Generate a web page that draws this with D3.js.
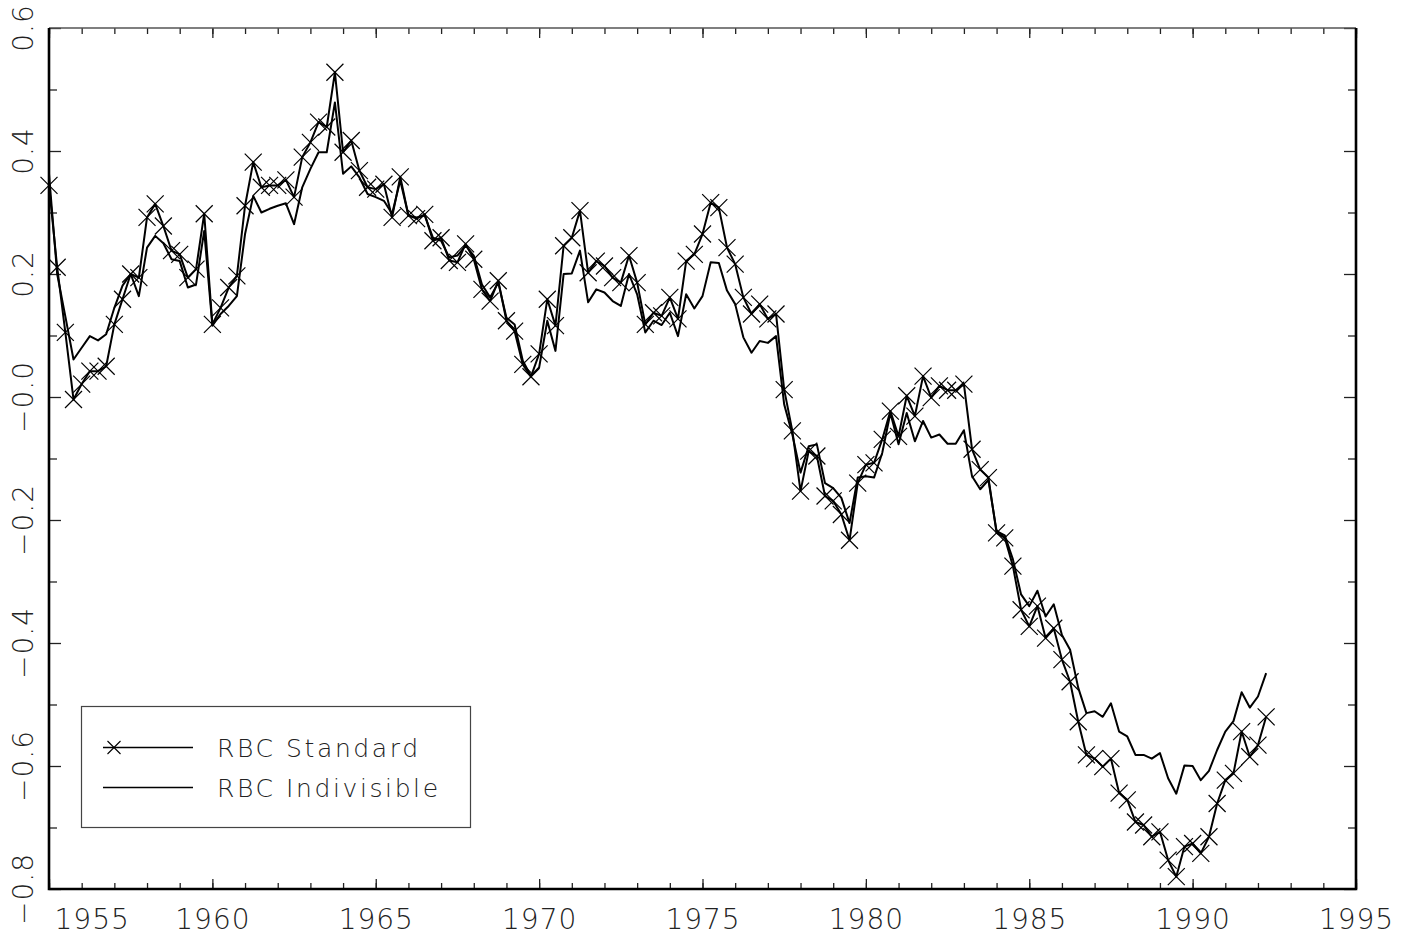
<!DOCTYPE html>
<html>
<head>
<meta charset="utf-8">
<script src="https://cdn.jsdelivr.net/npm/d3@7"></script>
<style>
  html, body { margin: 0; padding: 0; background: #fff; }
  svg { display: block; }
  text { font-family: "DejaVu Sans", sans-serif; font-weight: 200; fill: #222; }
</style>
</head>
<body>
<svg id="chart" width="1413" height="939"></svg>
<script>
// Quarterly series, 1955:1 through 1992:2
const firstYear = 1955;
const standard = [
  0.344, 0.211, 0.105, -0.004, 0.021, 0.042, 0.042, 0.050, 0.118, 0.159,
  0.200, 0.194, 0.292, 0.314, 0.278, 0.238, 0.232, 0.194, 0.208, 0.298,
  0.118, 0.145, 0.178, 0.197, 0.311, 0.382, 0.341, 0.344, 0.344, 0.353,
  0.325, 0.390, 0.414, 0.447, 0.439, 0.528, 0.398, 0.417, 0.368, 0.341,
  0.338, 0.346, 0.292, 0.358, 0.295, 0.290, 0.297, 0.254, 0.259, 0.222,
  0.219, 0.249, 0.224, 0.175, 0.156, 0.189, 0.124, 0.107, 0.053, 0.033,
  0.070, 0.159, 0.116, 0.246, 0.259, 0.303, 0.202, 0.221, 0.213, 0.194,
  0.186, 0.230, 0.186, 0.118, 0.137, 0.132, 0.162, 0.127, 0.221, 0.232,
  0.265, 0.316, 0.308, 0.243, 0.216, 0.162, 0.135, 0.151, 0.127, 0.135,
  0.012, -0.055, -0.153, -0.088, -0.096, -0.161, -0.169, -0.191, -0.233, -0.140,
  -0.110, -0.107, -0.069, -0.023, -0.064, 0.002, -0.031, 0.034, -0.001, 0.018,
  0.011, 0.011, 0.021, -0.085, -0.118, -0.131, -0.221, -0.229, -0.275, -0.346,
  -0.373, -0.340, -0.392, -0.376, -0.427, -0.463, -0.528, -0.582, -0.588, -0.601,
  -0.588, -0.644, -0.655, -0.691, -0.696, -0.715, -0.707, -0.753, -0.780, -0.731,
  -0.726, -0.742, -0.715, -0.661, -0.623, -0.612, -0.544, -0.585, -0.566, -0.520
];
const indivisible = [
  0.363, 0.200, 0.131, 0.061, 0.080, 0.099, 0.092, 0.102, 0.145, 0.181,
  0.200, 0.164, 0.243, 0.262, 0.250, 0.224, 0.221, 0.178, 0.183, 0.270,
  0.116, 0.135, 0.148, 0.164, 0.265, 0.327, 0.300, 0.306, 0.311, 0.315,
  0.281, 0.341, 0.371, 0.398, 0.398, 0.479, 0.363, 0.375, 0.357, 0.330,
  0.325, 0.319, 0.298, 0.352, 0.295, 0.292, 0.295, 0.259, 0.254, 0.227,
  0.230, 0.246, 0.230, 0.183, 0.162, 0.186, 0.129, 0.118, 0.059, 0.034,
  0.048, 0.124, 0.075, 0.200, 0.201, 0.238, 0.154, 0.175, 0.170, 0.156,
  0.148, 0.200, 0.167, 0.105, 0.124, 0.117, 0.137, 0.099, 0.167, 0.144,
  0.164, 0.219, 0.218, 0.173, 0.151, 0.097, 0.072, 0.091, 0.088, 0.099,
  -0.012, -0.061, -0.123, -0.080, -0.077, -0.140, -0.148, -0.164, -0.205, -0.131,
  -0.129, -0.131, -0.091, -0.026, -0.077, -0.026, -0.072, -0.039, -0.066, -0.061,
  -0.076, -0.076, -0.054, -0.129, -0.150, -0.135, -0.218, -0.225, -0.264, -0.321,
  -0.340, -0.315, -0.357, -0.337, -0.387, -0.411, -0.473, -0.514, -0.511, -0.520,
  -0.498, -0.544, -0.552, -0.582, -0.582, -0.588, -0.579, -0.620, -0.645, -0.599,
  -0.600, -0.623, -0.608, -0.574, -0.544, -0.527, -0.480, -0.505, -0.487, -0.449
];
const yearTicks = [1955, 1960, 1965, 1970, 1975, 1980, 1985, 1990, 1995];
const yearMinorTicks = d3.range(1955, 1996);
const valueTicks = [-0.8, -0.6, -0.4, -0.2, 0.0, 0.2, 0.4, 0.6];
const valueMinorTicks = [-0.7, -0.5, -0.3, -0.1, 0.1, 0.3, 0.5];
const seriesNames = ["RBC Standard", "RBC Indivisible"];

const svg = d3.select("#chart");
const frame = { left: 49, right: 1356, top: 28, bottom: 889 };

const x = d3.scaleLinear().domain([1955, 1995]).range([frame.left, frame.right]);
const y = d3.scaleLinear().domain([-0.8, 0.6]).range([frame.bottom, frame.top]);

const dateOf = i => firstYear + i / 4;
const line = d3.line().x((d, i) => x(dateOf(i))).y(d => y(d));

// ---- axes: ticks point inward on all four sides ----
function styleAxis(g) {
  g.select(".domain").remove();
  g.selectAll(".tick line").attr("stroke", "#222").attr("stroke-width", 1.3);
}
svg.append("g").attr("transform", `translate(0,${frame.bottom})`)
  .call(d3.axisBottom(x).tickValues(yearMinorTicks).tickSize(-6).tickFormat(""))
  .call(styleAxis);
svg.append("g").attr("transform", `translate(0,${frame.top})`)
  .call(d3.axisTop(x).tickValues(yearMinorTicks).tickSize(-6).tickFormat(""))
  .call(styleAxis);
svg.append("g").attr("transform", `translate(0,${frame.top})`)
  .call(d3.axisTop(x).tickValues(yearTicks).tickSize(-10).tickFormat(""))
  .call(styleAxis);
const xAxis = svg.append("g").attr("transform", `translate(0,${frame.bottom})`)
  .call(d3.axisBottom(x).tickValues(yearTicks).tickSize(-10).tickPadding(20).tickFormat(d3.format("d")))
  .call(styleAxis);
xAxis.selectAll(".tick text")
  .attr("font-size", 28).attr("fill", "#222").attr("letter-spacing", 1)
  .attr("font-family", "DejaVu Sans").attr("font-weight", 200);
// the first year label sits inside the frame, to the right of its tick
xAxis.selectAll(".tick text").filter(d => d === 1955)
  .attr("text-anchor", "start").attr("x", 5);

svg.append("g").attr("transform", `translate(${frame.left},0)`)
  .call(d3.axisLeft(y).tickValues(valueMinorTicks).tickSize(-8).tickFormat(""))
  .call(styleAxis);
svg.append("g").attr("transform", `translate(${frame.left},0)`)
  .call(d3.axisLeft(y).tickValues(valueTicks).tickSize(-12).tickFormat(""))
  .call(styleAxis);
svg.append("g").attr("transform", `translate(${frame.right},0)`)
  .call(d3.axisRight(y).tickValues(valueMinorTicks).tickSize(-8).tickFormat(""))
  .call(styleAxis);
svg.append("g").attr("transform", `translate(${frame.right},0)`)
  .call(d3.axisRight(y).tickValues(valueTicks).tickSize(-12).tickFormat(""))
  .call(styleAxis);

// rotated value labels, reading upward, centred on their ticks
const fmtValue = v => (v <= 0 ? "\u2212" : "") + d3.format(".1f")(Math.abs(v));
svg.append("g").selectAll("text")
  .data(valueTicks)
  .join("text")
  .attr("transform", d => `translate(33,${y(d)}) rotate(-90)`)
  .attr("text-anchor", "middle")
  .attr("font-size", 28)
  .attr("letter-spacing", 1)
  .text(fmtValue);

// ---- frame ----
svg.append("line").attr("x1", frame.left).attr("x2", frame.right)
  .attr("y1", frame.top).attr("y2", frame.top)
  .attr("stroke", "#555").attr("stroke-width", 1.3);
svg.append("path")
  .attr("d", `M${frame.left},${frame.top}V${frame.bottom}H${frame.right}V${frame.top}`)
  .attr("fill", "none").attr("stroke", "#000").attr("stroke-width", 2.6);

// ---- series ----
const xMark = r => `M${-r},${-r}L${r},${r}M${-r},${r}L${r},${-r}`;

svg.append("path").datum(indivisible)
  .attr("d", line).attr("fill", "none")
  .attr("stroke", "#000").attr("stroke-width", 2).attr("stroke-linejoin", "round");

svg.append("path").datum(standard)
  .attr("d", line).attr("fill", "none")
  .attr("stroke", "#000").attr("stroke-width", 2).attr("stroke-linejoin", "round");

svg.append("g").selectAll("path")
  .data(standard)
  .join("path")
  .attr("transform", (d, i) => `translate(${x(dateOf(i))},${y(d)})`)
  .attr("d", xMark(8.5))
  .attr("fill", "none").attr("stroke", "#000").attr("stroke-width", 1.2);

// ---- legend ----
const legend = svg.append("g");
legend.append("rect")
  .attr("x", 81.5).attr("y", 706.5).attr("width", 389).attr("height", 121)
  .attr("fill", "#fff").attr("stroke", "#444").attr("stroke-width", 1.2);
const rows = seriesNames.map((name, k) => ({ name, k, cy: 747.5 + k * 40 }));
legend.selectAll("line.key")
  .data(rows).join("line").attr("class", "key")
  .attr("x1", 103).attr("x2", 193)
  .attr("y1", d => d.cy).attr("y2", d => d.cy)
  .attr("stroke", "#000").attr("stroke-width", 1.6);
legend.append("path")
  .attr("transform", `translate(114,${rows[0].cy})`)
  .attr("d", xMark(6.5))
  .attr("fill", "none").attr("stroke", "#000").attr("stroke-width", 1.1);
legend.selectAll("text")
  .data(rows).join("text")
  .attr("x", 217).attr("y", d => d.cy + 9.5)
  .attr("font-size", 25).attr("letter-spacing", 2.6)
  .text(d => d.name);
</script>
</body>
</html>
